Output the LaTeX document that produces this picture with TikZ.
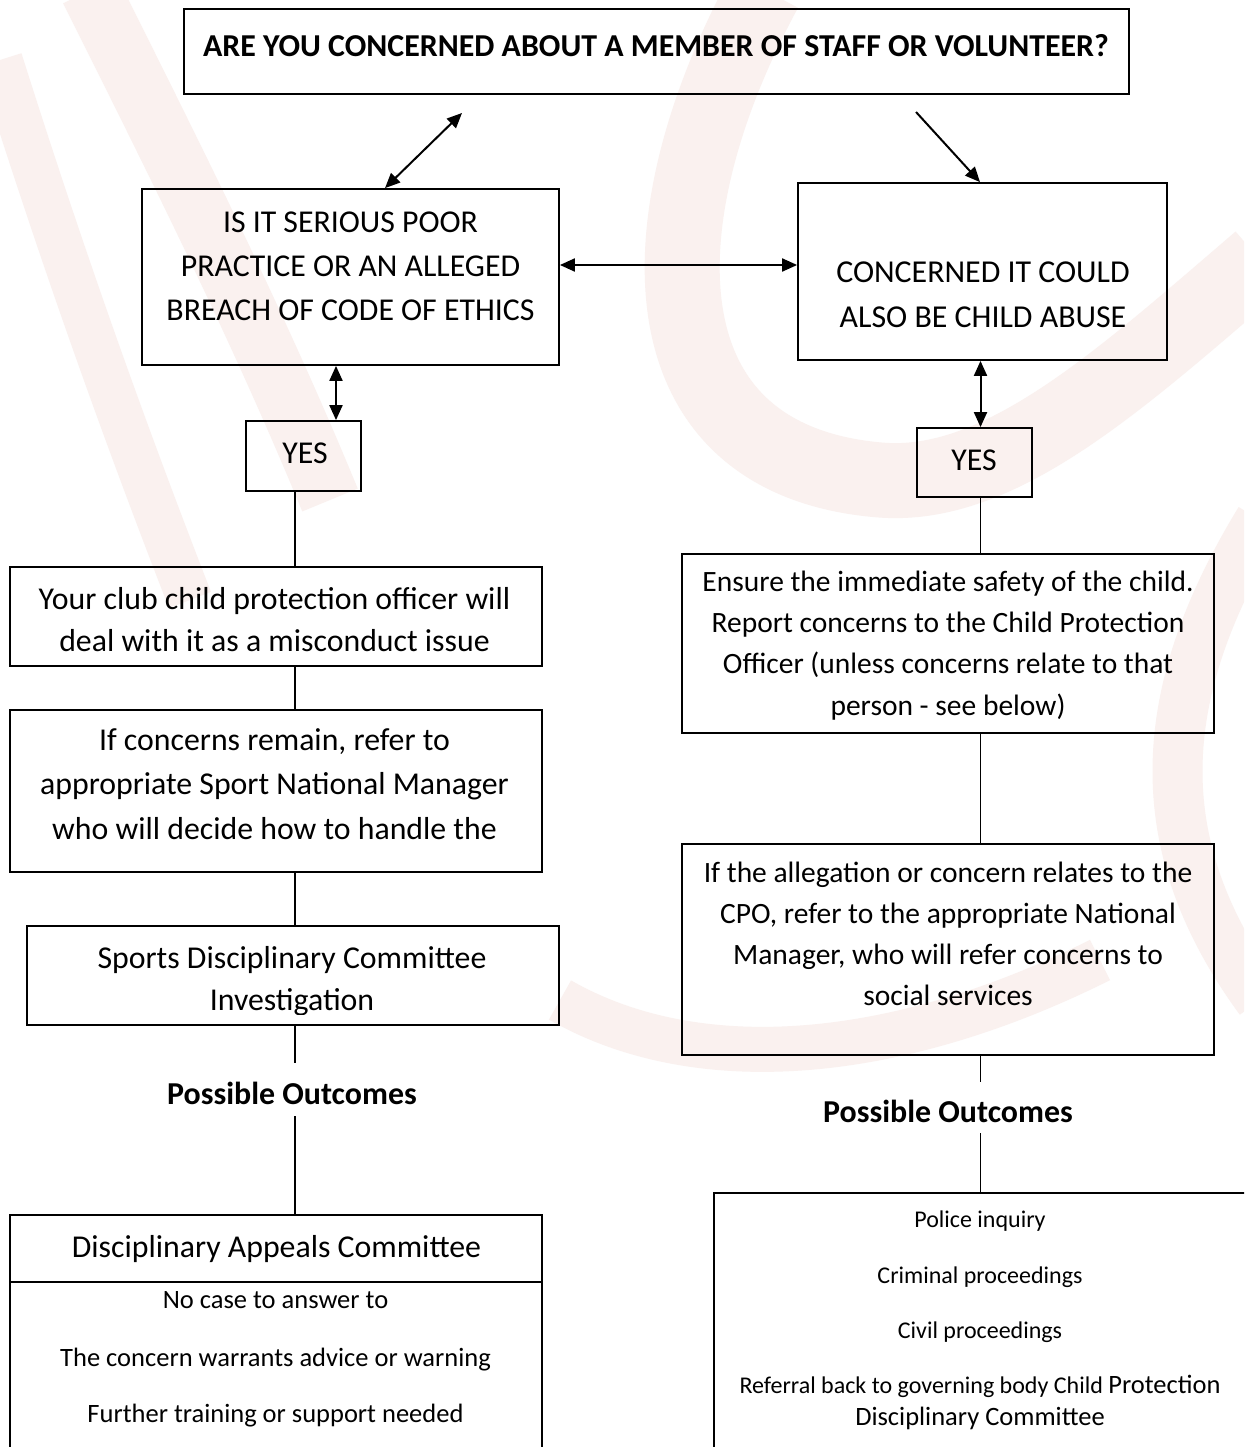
\documentclass[tikz,border=0pt]{standalone}
\usepackage{fontspec}
\setmainfont{Carlito}
\usetikzlibrary{arrows.meta}
\definecolor{wm}{RGB}{250,241,239}
\begin{document}
\begin{tikzpicture}[x=1pt,y=-1pt,
  box/.style={draw=black, line width=1.8pt, inner sep=0pt},
  conn/.style={line width=1.8pt},
  dbl/.style={line width=2pt, {Triangle[length=15pt,width=13pt]}-{Triangle[length=15pt,width=13pt]}},
  sgl/.style={line width=2pt, -{Triangle[length=15pt,width=13pt]}},
  wmark/.style={draw=wm, line cap=butt},
  lefttxt/.style={inner sep=0pt, align=center, anchor=north},
  oneline/.style={inner sep=0pt, anchor=base},
  bodyfont/.style={font=\fontsize{31.8}{44}\selectfont},
  boldfont/.style={font=\fontsize{31.9}{44}\selectfont\bfseries},
  smallfont/.style={font=\fontsize{26.5}{32}\selectfont},
  tinyfont/.style={font=\fontsize{24}{32}\selectfont}
]
\useasboundingbox (0,0) rectangle (1244,1447);
\clip (0,0) rectangle (1244,1447);
\fill[white] (0,0) rectangle (1244,1447);

% faint watermark
\draw[wmark, line width=45pt] (0,60) .. controls (60,250) and (120,420) .. (190,600);
\draw[wmark, line width=60pt] (90,-10) .. controls (180,170) and (260,330) .. (330,500);
\draw[wmark, line width=75pt] (765,-10) .. controls (640,220) and (640,460) .. (880,480)
   .. controls (1000,490) and (1120,380) .. (1260,260);
\draw[wmark, line width=45pt] (560,1000) .. controls (700,1080) and (900,1060) .. (1100,960);
\draw[wmark, line width=50pt] (1260,520) .. controls (1150,700) and (1150,850) .. (1260,1000);

% coordinates for connector lines
\coordinate (lx) at (295,0);
\coordinate (rx) at (980.5,0);
\coordinate (ax) at (336,0);
\coordinate (hy) at (0,265);
\coordinate (a1x) at (385,0);
\coordinate (a1) at (462,113);
\coordinate (a2) at (916,112);
\coordinate (a2x) at (980,0);
\coordinate (po1t) at (295,1063);
\coordinate (po1b) at (295,1116);
\coordinate (po2t) at (980.5,1082);
\coordinate (po2b) at (980.5,1133);

% boxes
\node[box, minimum width=945pt, minimum height=85pt] (T) at (656.5,51.5) {};
\node[box, minimum width=417pt, minimum height=176pt] (L) at (350.5,277) {};
\node[box, minimum width=369pt, minimum height=177pt] (R) at (982.5,271.5) {};
\node[box, minimum width=115pt, minimum height=70pt] (YL) at (303.5,456) {};
\node[box, minimum width=115pt, minimum height=69pt] (YR) at (974.5,462.5) {};
\node[box, minimum width=532pt, minimum height=99pt] (C1) at (276,616.5) {};
\node[box, minimum width=532pt, minimum height=162pt] (C2) at (276,791) {};
\node[box, minimum width=532pt, minimum height=99pt] (C3) at (293,975.5) {};
\node[box, minimum width=532pt, minimum height=67pt] (D1) at (276,1248.5) {};
\node[box, minimum width=532pt, minimum height=198pt] (D2) at (276,1381) {};
\node[box, minimum width=532pt, minimum height=179pt] (E1) at (948,643.5) {};
\node[box, minimum width=532pt, minimum height=211pt] (E2) at (948,949.5) {};
\node[box, minimum width=556pt, minimum height=287pt] (E3) at (992,1336.5) {};

% texts
\node[oneline, boldfont] (Tt) at (656,57) {ARE YOU CONCERNED ABOUT A MEMBER OF STAFF OR VOLUNTEER?};
\node[lefttxt, bodyfont] (Lt) at (350.5,201.2) {\strut IS IT SERIOUS POOR\\PRACTICE OR AN ALLEGED\\BREACH OF CODE OF ETHICS\strut};
\node[lefttxt, font=\fontsize{31.9}{45}\selectfont] (Rt) at (983,250.5) {\strut CONCERNED IT COULD\\ALSO BE CHILD ABUSE\strut};
\node[oneline, bodyfont] (YLt) at (305,463) {YES};
\node[oneline, bodyfont] (YRt) at (974,470) {YES};
\node[lefttxt, font=\fontsize{31.8}{42}\selectfont] (C1t) at (274.5,579.6) {\strut Your club child protection officer will\\deal with it as a misconduct issue\strut};
\node[lefttxt, font=\fontsize{31.8}{44.5}\selectfont] (C2t) at (274.5,718.85) {\strut If concerns remain, refer to\\appropriate Sport National Manager\\who will decide how to handle the\strut};
\begin{scope}
\clip (C3.north west) rectangle ([yshift=11pt]C3.south east);
\node[lefttxt, font=\fontsize{31.8}{42}\selectfont] (C3t) at (292,938.6) {\strut Sports Disciplinary Committee\\Investigation\strut};
\end{scope}
\node[oneline, boldfont] (PO1) at (292,1104) {Possible Outcomes};
\node[oneline, bodyfont] (D1t) at (276.5,1257) {Disciplinary Appeals Committee};
\node[oneline, smallfont] (D2a) at (275.5,1308) {No case to answer to};
\node[oneline, smallfont] (D2b) at (275.5,1366) {The concern warrants advice or warning};
\node[oneline, smallfont] (D2c) at (275.5,1422) {Further training or support needed};

\node[lefttxt, font=\fontsize{29.5}{41.3}\selectfont] (E1t) at (948,562.1) {\strut Ensure the immediate safety of the child.\\Report concerns to the Child Protection\\Officer (unless concerns relate to that\\person - see below)\strut};
\node[lefttxt, font=\fontsize{29.5}{41}\selectfont] (E2t) at (948,853.3) {\strut If the allegation or concern relates to the\\CPO, refer to the appropriate National\\Manager, who will refer concerns to\\social services\strut};
\node[oneline, boldfont] (PO2) at (948,1122) {Possible Outcomes};
\node[oneline, tinyfont] (E3a) at (980,1227) {Police inquiry};
\node[oneline, tinyfont] (E3b) at (980,1283) {Criminal proceedings};
\node[oneline, tinyfont] (E3c) at (980,1338) {Civil proceedings};
\node[oneline, tinyfont] (E3d) at (980,1393) {Referral back to governing body Child {\fontsize{26.5}{32}\selectfont Protection}};
\node[oneline, smallfont] (E3e) at (980,1425) {Disciplinary Committee};

% arrows
\draw[dbl] (L.north -| a1x) -- (a1);
\draw[sgl] (a2) -- (R.north -| a2x);
\draw[dbl] (L.east |- hy) -- (R.west |- hy);
\draw[dbl] (L.south -| ax) -- (YL.north -| ax);
\draw[dbl] (R.south -| rx) -- (YR.north -| rx);

% plain connectors
\draw[conn] (YL.south -| lx) -- (C1.north -| lx);
\draw[conn] (C1.south -| lx) -- (C2.north -| lx);
\draw[conn] (C2.south -| lx) -- (C3.north -| lx);
\draw[conn] (C3.south -| lx) -- (po1t);
\draw[conn] (po1b) -- (D1.north -| lx);
\draw[conn] (YR.south -| rx) -- (E1.north -| rx);
\draw[conn] (E1.south -| rx) -- (E2.north -| rx);
\draw[conn] (E2.south -| rx) -- (po2t);
\draw[conn] (po2b) -- (E3.north -| rx);
\end{tikzpicture}
\end{document}
